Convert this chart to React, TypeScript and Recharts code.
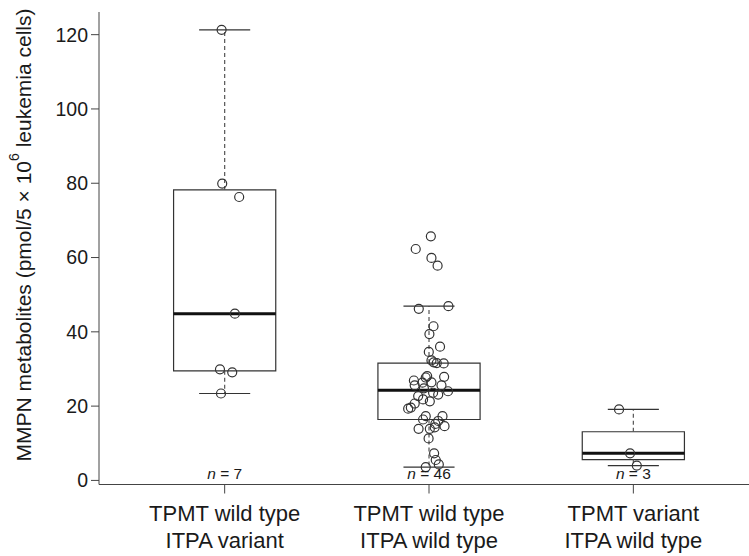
import React from "react";
import {
  ComposedChart,
  Scatter,
  XAxis,
  YAxis,
  ReferenceArea,
  ReferenceLine,
} from "recharts";

const categories = [
  ["TPMT wild type", "ITPA variant"],
  ["TPMT wild type", "ITPA wild type"],
  ["TPMT variant", "ITPA wild type"],
];
const counts = [7, 46, 3];
const yTicks = [0, 20, 40, 60, 80, 100, 120];

// box statistics per group
const whiskerLow = [23.4, 3.6, 4.0];
const q1 = [29.5, 16.4, 5.6];
const median = [44.9, 24.3, 7.3];
const q3 = [78.2, 31.6, 13.1];
const whiskerHigh = [121.3, 46.9, 19.1];

// individual patients (value, horizontal jitter in category units)
const group1Values = [121.3, 79.9, 76.3, 44.9, 29.9, 29.1, 23.4];
const group1Jitter = [-0.015, -0.012, 0.071, 0.05, -0.023, 0.037, -0.018];

const group2Values = [
  65.7, 62.3, 59.9, 57.8, 46.2, 46.9, 41.5, 39.4, 36.0, 34.6, 32.3, 31.8, 31.6,
  31.5, 28.1, 27.7, 27.9, 26.9, 26.3, 26.4, 25.6, 25.6, 24.8, 24.0, 23.6, 23.1,
  22.7, 21.8, 21.3, 20.7, 19.6, 19.3, 17.3, 17.3, 16.4, 16.0, 15.2, 14.6, 13.9,
  13.9, 14.3, 11.3, 7.3, 5.5, 4.3, 3.6,
];
const group2Jitter = [
  0.009, -0.065, 0.012, 0.042, -0.05, 0.095, 0.022, 0.002, 0.054, -0.001, 0.012,
  0.023, 0.038, 0.072, -0.009, -0.016, 0.074, -0.074, -0.032, 0.012, 0.061,
  -0.07, -0.025, 0.093, 0.02, 0.045, -0.053, -0.029, 0.004, -0.07, -0.089,
  -0.102, -0.016, 0.066, -0.029, 0.045, 0.031, 0.076, -0.051, 0.004, 0.028,
  -0.002, 0.025, 0.033, 0.048, -0.016,
];

const group3Values = [19.1, 7.3, 4.0];
const group3Jitter = [-0.07, -0.016, 0.017];

const groupValues = [group1Values, group2Values, group3Values];
const groupJitter = [group1Jitter, group2Jitter, group3Jitter];

const points = groupValues.flatMap((vals, g) =>
  vals.map((v, i) => ({ x: g + 1 + groupJitter[g][i], y: v }))
);
const countData = counts.map((n, i) => ({ x: i + 1, y: 0, n }));

const FONT = "'Liberation Sans', Arial, Helvetica, sans-serif";
const INK = "#333333";

const CategoryTick = (props: any) => {
  const { x, y, payload } = props;
  const lines = categories[Math.round(payload.value) - 1] || [];
  return (
    <text
      x={x}
      y={y}
      textAnchor="middle"
      fill="#1a1a1a"
      fontSize={22}
      fontFamily={FONT}
    >
      {lines.map((l, i) => (
        <tspan key={i} x={x} dy={i === 0 ? 25 : 27}>
          {l}
        </tspan>
      ))}
    </text>
  );
};

const YTitle = () => {
  const cx = 23;
  const cy = 235;
  return (
    <text
      x={cx}
      y={cy}
      transform={`rotate(-90 ${cx} ${cy})`}
      textAnchor="middle"
      dominantBaseline="central"
      fontSize={21}
      fill="#1a1a1a"
      fontFamily={FONT}
    >
      MMPN metabolites (pmol/5 × 10
      <tspan dy={-9} fontSize={14}>
        6
      </tspan>
      <tspan dy={9}> leukemia cells)</tspan>
    </text>
  );
};

const Circle = (props: any) => (
  <circle
    cx={props.cx}
    cy={props.cy}
    r={4.5}
    fill="none"
    stroke={INK}
    strokeWidth={1.2}
  />
);

const CountLabel = (props: any) => (
  <text
    x={props.cx}
    y={props.cy - 1}
    textAnchor="middle"
    fontSize={15.5}
    fill="#1a1a1a"
    fontFamily={FONT}
  >
    <tspan fontStyle="italic">n</tspan> = {props.payload.n}
  </text>
);

export default function App() {
  return (
    <div style={{ position: "absolute", left: 0, top: 0, background: "#fff" }}>
      <ComposedChart
        width={749}
        height={556}
        margin={{ top: 12, right: 0, left: 0, bottom: 0 }}
      >
        <XAxis
          xAxisId="top"
          orientation="top"
          type="number"
          dataKey="x"
          domain={[0.385, 3.566]}
          allowDataOverflow
          height={0}
          tick={false}
          tickLine={false}
          stroke="#444"
        />
        <XAxis
          type="number"
          dataKey="x"
          domain={[0.385, 3.566]}
          allowDataOverflow
          ticks={[1, 2, 3]}
          height={71.5}
          tickSize={9}
          tickMargin={2}
          stroke="#444"
          tick={<CategoryTick />}
        />
        <YAxis
          type="number"
          dataKey="y"
          domain={[-1.1, 126.1]}
          allowDataOverflow
          ticks={yTicks}
          width={99}
          tickSize={8}
          tickMargin={3}
          stroke="#444"
          tick={{ fontSize: 19.5, fill: "#1a1a1a", fontFamily: FONT }}
          label={<YTitle />}
        />
        {counts.map((_, i) => (
          <ReferenceArea
            key={`box${i}`}
            x1={i + 1 - 0.25}
            x2={i + 1 + 0.25}
            y1={q1[i]}
            y2={q3[i]}
            fill="none"
            fillOpacity={0}
            stroke={INK}
            strokeWidth={1.2}
          />
        ))}
        {counts.map((_, i) => (
          <ReferenceLine
            key={`wu${i}`}
            segment={[
              { x: i + 1, y: q3[i] },
              { x: i + 1, y: whiskerHigh[i] },
            ]}
            stroke="#555"
            strokeWidth={1.2}
            strokeDasharray="4 3"
          />
        ))}
        {counts.map((_, i) => (
          <ReferenceLine
            key={`wl${i}`}
            segment={[
              { x: i + 1, y: q1[i] },
              { x: i + 1, y: whiskerLow[i] },
            ]}
            stroke="#555"
            strokeWidth={1.2}
            strokeDasharray="4 3"
          />
        ))}
        {counts.map((_, i) => (
          <ReferenceLine
            key={`cu${i}`}
            segment={[
              { x: i + 1 - 0.125, y: whiskerHigh[i] },
              { x: i + 1 + 0.125, y: whiskerHigh[i] },
            ]}
            stroke={INK}
            strokeWidth={1.2}
          />
        ))}
        {counts.map((_, i) => (
          <ReferenceLine
            key={`cl${i}`}
            segment={[
              { x: i + 1 - 0.125, y: whiskerLow[i] },
              { x: i + 1 + 0.125, y: whiskerLow[i] },
            ]}
            stroke={INK}
            strokeWidth={1.2}
          />
        ))}
        {counts.map((_, i) => (
          <ReferenceLine
            key={`md${i}`}
            segment={[
              { x: i + 1 - 0.25, y: median[i] },
              { x: i + 1 + 0.25, y: median[i] },
            ]}
            stroke="#111"
            strokeWidth={3}
          />
        ))}
        <Scatter
          data={points}
          shape={<Circle />}
          isAnimationActive={false}
        />
        <Scatter
          data={countData}
          shape={<CountLabel />}
          isAnimationActive={false}
        />
      </ComposedChart>
    </div>
  );
}
